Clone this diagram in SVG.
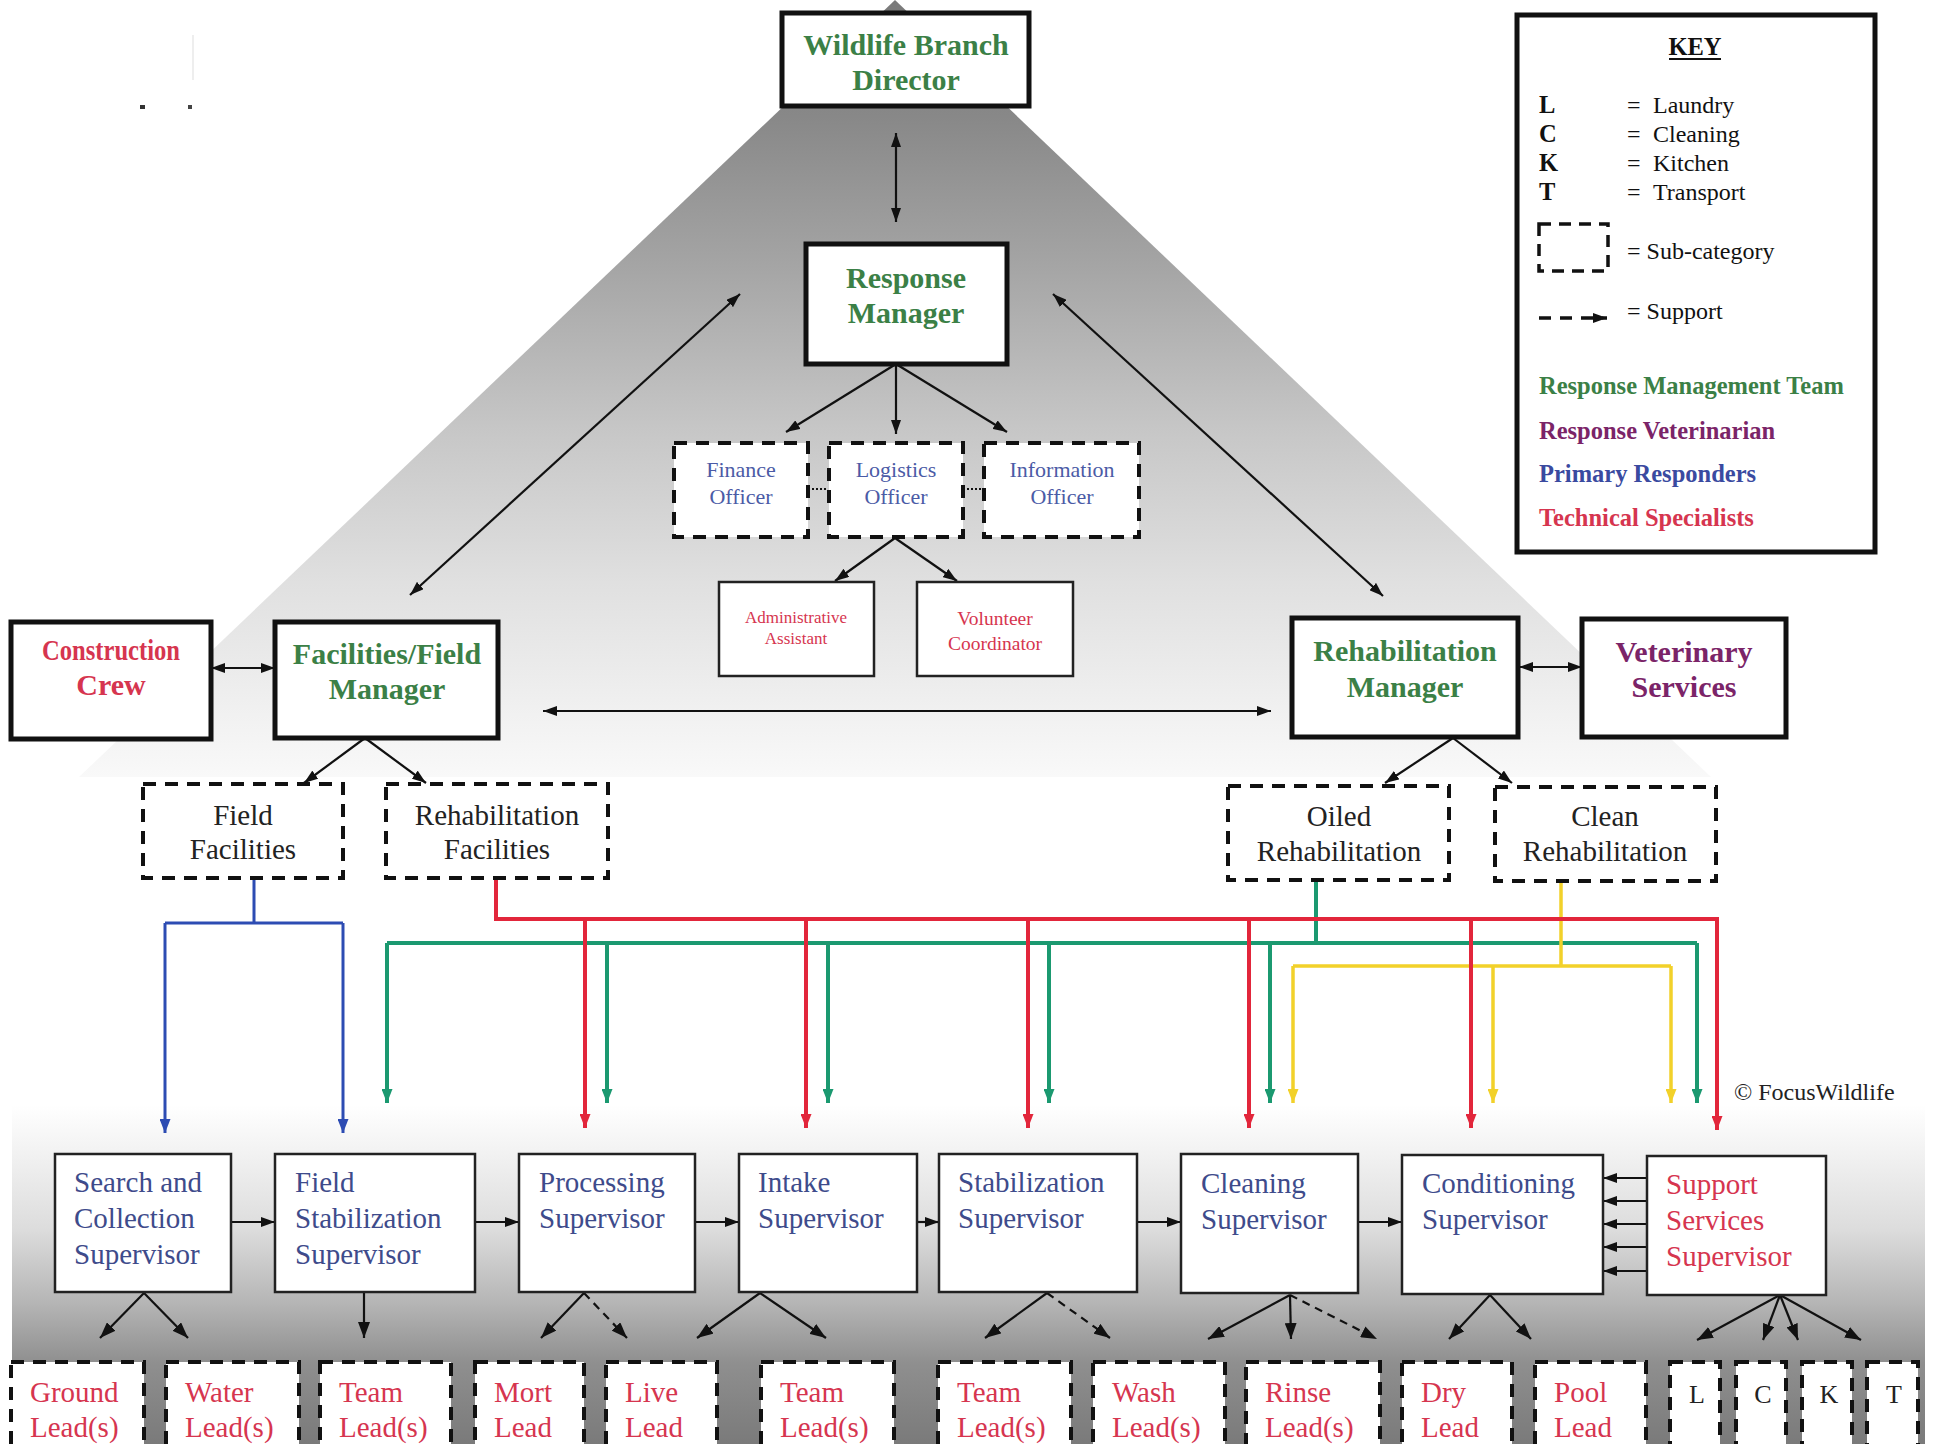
<svg xmlns="http://www.w3.org/2000/svg" width="1935" height="1444" viewBox="0 0 1935 1444">
<defs>
  <linearGradient id="tri" gradientUnits="userSpaceOnUse" x1="0" y1="0" x2="0" y2="777">
    <stop offset="0" stop-color="#7a7a7a"/>
    <stop offset="0.15" stop-color="#888888"/>
    <stop offset="0.35" stop-color="#a6a6a6"/>
    <stop offset="0.55" stop-color="#c6c6c6"/>
    <stop offset="0.75" stop-color="#e0e0e0"/>
    <stop offset="1" stop-color="#f9f9f9"/>
  </linearGradient>
  <linearGradient id="bot" gradientUnits="userSpaceOnUse" x1="0" y1="1105" x2="0" y2="1444">
    <stop offset="0" stop-color="#ffffff"/>
    <stop offset="0.14" stop-color="#f2f2f2"/>
    <stop offset="0.37" stop-color="#dcdcdc"/>
    <stop offset="0.58" stop-color="#b6b6b6"/>
    <stop offset="0.76" stop-color="#8f8f8f"/>
    <stop offset="1" stop-color="#7a7a7a"/>
  </linearGradient>
  <marker id="ah" viewBox="0 0 14 10" refX="14" refY="5" markerWidth="14" markerHeight="10" markerUnits="userSpaceOnUse" orient="auto-start-reverse">
    <path d="M0,0 L14,5 L0,10 z" fill="#111"/>
  </marker>
  <marker id="ahL" viewBox="0 0 16 12" refX="16" refY="6" markerWidth="16" markerHeight="12" markerUnits="userSpaceOnUse" orient="auto-start-reverse">
    <path d="M0,0 L16,6 L0,12 z" fill="#111"/>
  </marker>
  <marker id="ahr" viewBox="0 0 14 11" refX="14" refY="5.5" markerWidth="14" markerHeight="11" markerUnits="userSpaceOnUse" orient="auto">
    <path d="M0,0 L14,5.5 L0,11 z" fill="#e2263b"/>
  </marker>
  <marker id="ahg" viewBox="0 0 14 11" refX="14" refY="5.5" markerWidth="14" markerHeight="11" markerUnits="userSpaceOnUse" orient="auto">
    <path d="M0,0 L14,5.5 L0,11 z" fill="#1b9970"/>
  </marker>
  <marker id="ahy" viewBox="0 0 14 11" refX="14" refY="5.5" markerWidth="14" markerHeight="11" markerUnits="userSpaceOnUse" orient="auto">
    <path d="M0,0 L14,5.5 L0,11 z" fill="#f2d12a"/>
  </marker>
  <marker id="ahb" viewBox="0 0 14 11" refX="14" refY="5.5" markerWidth="14" markerHeight="11" markerUnits="userSpaceOnUse" orient="auto">
    <path d="M0,0 L14,5.5 L0,11 z" fill="#2d4cb3"/>
  </marker>
</defs>
<style>
  .thick{fill:#fff;stroke:#111;stroke-width:5}
  .thin{fill:#fff;stroke:#222;stroke-width:2.5}
  .dash{fill:#fff;stroke:#111;stroke-width:4;stroke-dasharray:13 9}
  .conn{fill:none;stroke:#111;stroke-width:2.2}
  .dconn{fill:none;stroke:#111;stroke-width:2.2;stroke-dasharray:8 6}
  .hd{font-family:"Liberation Serif",serif;font-weight:bold;font-size:30px;text-anchor:middle}
  .sub{font-family:"Liberation Serif",serif;font-size:29px;text-anchor:middle;fill:#222}
  .off{font-family:"Liberation Serif",serif;font-size:22px;text-anchor:middle;fill:#4b5ba6}
  .sv{font-family:"Liberation Serif",serif;font-size:29px;fill:#3e4b8b}
  .ld{font-family:"Liberation Serif",serif;font-size:29px;fill:#d6354f}
  .lt{font-family:"Liberation Serif",serif;font-size:26px;fill:#222;text-anchor:middle}
  .key{font-family:"Liberation Serif",serif;font-size:24px;fill:#111}
  .kb{font-family:"Liberation Serif",serif;font-size:24.5px;font-weight:bold}
  .g{fill:#3b8046}
  .pu{fill:#7b2468}
  .rd{fill:#d6354f}
  .bl{fill:#3a4aa0}
  .red{fill:none;stroke:#e2263b;stroke-width:4}
  .grn{fill:none;stroke:#1b9970;stroke-width:4}
  .yel{fill:none;stroke:#f2d12a;stroke-width:3.5}
  .blu{fill:none;stroke:#2d4cb3;stroke-width:3}
</style>

<g id="background">
  <rect x="0" y="0" width="1935" height="1444" fill="#ffffff"/>
  <polygon points="895,0 1711,777 79,777" fill="url(#tri)"/>
  <rect x="12" y="1105" width="1913" height="339" fill="url(#bot)"/>
  <rect x="140" y="105" width="5" height="4" fill="#333"/>
  <rect x="188" y="105" width="4" height="4" fill="#444"/>
  <line x1="193" y1="35" x2="193" y2="80" stroke="#ddd" stroke-width="1"/>
</g>

<g id="connectors">
  <line class="conn" x1="896" y1="133" x2="896" y2="222" marker-start="url(#ah)" marker-end="url(#ah)"/>
  <line class="conn" x1="896" y1="364" x2="786" y2="432" marker-end="url(#ah)"/>
  <line class="conn" x1="896" y1="364" x2="896" y2="434" marker-end="url(#ah)"/>
  <line class="conn" x1="896" y1="364" x2="1007" y2="432" marker-end="url(#ah)"/>
  <line class="conn" x1="808" y1="489" x2="828" y2="489" stroke-dasharray="2 2"/>
  <line class="conn" x1="963" y1="489" x2="984" y2="489" stroke-dasharray="2 2"/>
  <line class="conn" x1="895" y1="538" x2="835" y2="581" marker-end="url(#ah)"/>
  <line class="conn" x1="895" y1="538" x2="957" y2="581" marker-end="url(#ah)"/>
  <line class="conn" x1="740" y1="294" x2="410" y2="595" marker-start="url(#ah)" marker-end="url(#ah)"/>
  <line class="conn" x1="1053" y1="294" x2="1383" y2="596" marker-start="url(#ah)" marker-end="url(#ah)"/>
  <line class="conn" x1="211" y1="668" x2="275" y2="668" marker-start="url(#ah)" marker-end="url(#ah)"/>
  <line class="conn" x1="543" y1="711" x2="1271" y2="711" marker-start="url(#ah)" marker-end="url(#ah)"/>
  <line class="conn" x1="1519" y1="667" x2="1582" y2="667" marker-start="url(#ah)" marker-end="url(#ah)"/>
  <line class="conn" x1="365" y1="738" x2="304" y2="783" marker-end="url(#ah)"/>
  <line class="conn" x1="365" y1="738" x2="426" y2="783" marker-end="url(#ah)"/>
  <line class="conn" x1="1453" y1="738" x2="1385" y2="783" marker-end="url(#ah)"/>
  <line class="conn" x1="1453" y1="738" x2="1512" y2="783" marker-end="url(#ah)"/>

  <path class="blu" d="M254,879 V923 M165,923 H343"/>
  <line class="blu" x1="165" y1="923" x2="165" y2="1133" marker-end="url(#ahb)"/>
  <line class="blu" x1="343" y1="923" x2="343" y2="1133" marker-end="url(#ahb)"/>

  <path class="grn" d="M1316,880 V943 M387,943 H1697"/>
  <line class="grn" x1="387" y1="943" x2="387" y2="1103" marker-end="url(#ahg)"/>
  <line class="grn" x1="607" y1="943" x2="607" y2="1103" marker-end="url(#ahg)"/>
  <line class="grn" x1="828" y1="943" x2="828" y2="1103" marker-end="url(#ahg)"/>
  <line class="grn" x1="1049" y1="943" x2="1049" y2="1103" marker-end="url(#ahg)"/>
  <line class="grn" x1="1270" y1="943" x2="1270" y2="1103" marker-end="url(#ahg)"/>
  <line class="grn" x1="1697" y1="943" x2="1697" y2="1103" marker-end="url(#ahg)"/>

  <path class="yel" d="M1561,881 V966 M1293,966 H1671"/>
  <line class="yel" x1="1293" y1="966" x2="1293" y2="1103" marker-end="url(#ahy)"/>
  <line class="yel" x1="1493" y1="966" x2="1493" y2="1103" marker-end="url(#ahy)"/>
  <line class="yel" x1="1671" y1="966" x2="1671" y2="1103" marker-end="url(#ahy)"/>

  <path class="red" d="M496,879 V919 H1717"/>
  <line class="red" x1="585" y1="919" x2="585" y2="1128" marker-end="url(#ahr)"/>
  <line class="red" x1="806" y1="919" x2="806" y2="1128" marker-end="url(#ahr)"/>
  <line class="red" x1="1028" y1="919" x2="1028" y2="1128" marker-end="url(#ahr)"/>
  <line class="red" x1="1249" y1="919" x2="1249" y2="1128" marker-end="url(#ahr)"/>
  <line class="red" x1="1471" y1="919" x2="1471" y2="1128" marker-end="url(#ahr)"/>
  <line class="red" x1="1717" y1="917" x2="1717" y2="1130" marker-end="url(#ahr)"/>

  <line class="conn" x1="231" y1="1222" x2="275" y2="1222" marker-end="url(#ah)"/>
  <line class="conn" x1="475" y1="1222" x2="519" y2="1222" marker-end="url(#ah)"/>
  <line class="conn" x1="695" y1="1222" x2="739" y2="1222" marker-end="url(#ah)"/>
  <line class="conn" x1="917" y1="1222" x2="939" y2="1222" marker-end="url(#ah)"/>
  <line class="conn" x1="1137" y1="1222" x2="1181" y2="1222" marker-end="url(#ah)"/>
  <line class="conn" x1="1358" y1="1222" x2="1402" y2="1222" marker-end="url(#ah)"/>
  <line class="conn" x1="1647" y1="1178" x2="1603" y2="1178" marker-end="url(#ah)"/>
  <line class="conn" x1="1647" y1="1201" x2="1603" y2="1201" marker-end="url(#ah)"/>
  <line class="conn" x1="1647" y1="1224" x2="1603" y2="1224" marker-end="url(#ah)"/>
  <line class="conn" x1="1647" y1="1247" x2="1603" y2="1247" marker-end="url(#ah)"/>
  <line class="conn" x1="1647" y1="1271" x2="1603" y2="1271" marker-end="url(#ah)"/>

  <line class="conn" x1="144" y1="1293" x2="100" y2="1338" marker-end="url(#ahL)"/>
  <line class="conn" x1="144" y1="1293" x2="188" y2="1338" marker-end="url(#ahL)"/>
  <line class="conn" x1="364" y1="1293" x2="364" y2="1338" marker-end="url(#ahL)"/>
  <line class="conn" x1="584" y1="1293" x2="541" y2="1338" marker-end="url(#ahL)"/>
  <line class="dconn" x1="584" y1="1293" x2="627" y2="1338" marker-end="url(#ahL)"/>
  <line class="conn" x1="760" y1="1293" x2="697" y2="1338" marker-end="url(#ahL)"/>
  <line class="conn" x1="760" y1="1293" x2="826" y2="1338" marker-end="url(#ahL)"/>
  <line class="conn" x1="1047" y1="1293" x2="985" y2="1338" marker-end="url(#ahL)"/>
  <line class="dconn" x1="1047" y1="1293" x2="1110" y2="1338" marker-end="url(#ahL)"/>
  <line class="conn" x1="1290" y1="1295" x2="1208" y2="1339" marker-end="url(#ahL)"/>
  <line class="conn" x1="1290" y1="1295" x2="1291" y2="1339" marker-end="url(#ahL)"/>
  <line class="dconn" x1="1290" y1="1295" x2="1377" y2="1339" marker-end="url(#ahL)"/>
  <line class="conn" x1="1490" y1="1295" x2="1449" y2="1339" marker-end="url(#ahL)"/>
  <line class="conn" x1="1490" y1="1295" x2="1531" y2="1339" marker-end="url(#ahL)"/>
  <line class="conn" x1="1780" y1="1295" x2="1697" y2="1340" marker-end="url(#ahL)"/>
  <line class="conn" x1="1780" y1="1295" x2="1763" y2="1340" marker-end="url(#ahL)"/>
  <line class="conn" x1="1780" y1="1295" x2="1798" y2="1340" marker-end="url(#ahL)"/>
  <line class="conn" x1="1780" y1="1295" x2="1861" y2="1340" marker-end="url(#ahL)"/>
</g>

<g id="director">
  <rect class="thick" x="782" y="13" width="247" height="93"/>
  <text class="hd g" x="906"><tspan x="906" y="55">Wildlife Branch</tspan><tspan x="906" y="90">Director</tspan></text>
</g>
<g id="response-manager">
  <rect class="thick" x="806" y="244" width="201" height="120"/>
  <text class="hd g"><tspan x="906" y="288">Response</tspan><tspan x="906" y="323">Manager</tspan></text>
</g>
<g id="finance-officer">
  <rect class="dash" x="674" y="443" width="134" height="94"/>
  <text class="off"><tspan x="741" y="477">Finance</tspan><tspan x="741" y="504">Officer</tspan></text>
</g>
<g id="logistics-officer">
  <rect class="dash" x="829" y="443" width="134" height="94"/>
  <text class="off"><tspan x="896" y="477">Logistics</tspan><tspan x="896" y="504">Officer</tspan></text>
</g>
<g id="information-officer">
  <rect class="dash" x="984" y="443" width="155" height="94"/>
  <text class="off"><tspan x="1062" y="477">Information</tspan><tspan x="1062" y="504">Officer</tspan></text>
</g>
<g id="admin-assistant">
  <rect class="thin" x="719" y="582" width="155" height="94"/>
  <text font-family="Liberation Serif, serif" font-size="17" text-anchor="middle" class="rd"><tspan x="796" y="623">Administrative</tspan><tspan x="796" y="644">Assistant</tspan></text>
</g>
<g id="volunteer-coordinator">
  <rect class="thin" x="917" y="582" width="156" height="94"/>
  <text font-family="Liberation Serif, serif" font-size="19.5" text-anchor="middle" class="rd"><tspan x="995" y="625">Volunteer</tspan><tspan x="995" y="650">Coordinator</tspan></text>
</g>
<g id="construction-crew">
  <rect class="thick" x="11" y="622" width="200" height="117"/>
  <text class="hd rd" font-size="28"><tspan x="111" y="660" textLength="138" lengthAdjust="spacingAndGlyphs">Construction</tspan><tspan x="111" y="695">Crew</tspan></text>
</g>
<g id="facilities-manager">
  <rect class="thick" x="275" y="622" width="223" height="116"/>
  <text class="hd g" font-size="28"><tspan x="387" y="664">Facilities/Field</tspan><tspan x="387" y="699">Manager</tspan></text>
</g>
<g id="rehabilitation-manager">
  <rect class="thick" x="1292" y="618" width="226" height="119"/>
  <text class="hd g"><tspan x="1405" y="661">Rehabilitation</tspan><tspan x="1405" y="697">Manager</tspan></text>
</g>
<g id="veterinary-services">
  <rect class="thick" x="1582" y="619" width="204" height="118"/>
  <text class="hd pu"><tspan x="1684" y="662">Veterinary</tspan><tspan x="1684" y="697">Services</tspan></text>
</g>
<g id="field-facilities">
  <rect class="dash" x="143" y="784" width="200" height="94"/>
  <text class="sub"><tspan x="243" y="825">Field</tspan><tspan x="243" y="859">Facilities</tspan></text>
</g>
<g id="rehabilitation-facilities">
  <rect class="dash" x="386" y="784" width="222" height="94"/>
  <text class="sub"><tspan x="497" y="825">Rehabilitation</tspan><tspan x="497" y="859">Facilities</tspan></text>
</g>
<g id="oiled-rehabilitation">
  <rect class="dash" x="1228" y="786" width="221" height="94"/>
  <text class="sub"><tspan x="1339" y="826">Oiled</tspan><tspan x="1339" y="861">Rehabilitation</tspan></text>
</g>
<g id="clean-rehabilitation">
  <rect class="dash" x="1495" y="787" width="221" height="94"/>
  <text class="sub"><tspan x="1605" y="826">Clean</tspan><tspan x="1605" y="861">Rehabilitation</tspan></text>
</g>

<g id="search-collection-supervisor">
  <rect class="thin" x="55" y="1154" width="176" height="138"/>
  <text class="sv"><tspan x="74" y="1192">Search and</tspan><tspan x="74" y="1228">Collection</tspan><tspan x="74" y="1264">Supervisor</tspan></text>
</g>
<g id="field-stabilization-supervisor">
  <rect class="thin" x="275" y="1154" width="200" height="138"/>
  <text class="sv"><tspan x="295" y="1192">Field</tspan><tspan x="295" y="1228">Stabilization</tspan><tspan x="295" y="1264">Supervisor</tspan></text>
</g>
<g id="processing-supervisor">
  <rect class="thin" x="519" y="1154" width="176" height="138"/>
  <text class="sv"><tspan x="539" y="1192">Processing</tspan><tspan x="539" y="1228">Supervisor</tspan></text>
</g>
<g id="intake-supervisor">
  <rect class="thin" x="739" y="1154" width="178" height="138"/>
  <text class="sv"><tspan x="758" y="1192">Intake</tspan><tspan x="758" y="1228">Supervisor</tspan></text>
</g>
<g id="stabilization-supervisor">
  <rect class="thin" x="939" y="1154" width="198" height="138"/>
  <text class="sv"><tspan x="958" y="1192">Stabilization</tspan><tspan x="958" y="1228">Supervisor</tspan></text>
</g>
<g id="cleaning-supervisor">
  <rect class="thin" x="1181" y="1154" width="177" height="139"/>
  <text class="sv"><tspan x="1201" y="1193">Cleaning</tspan><tspan x="1201" y="1229">Supervisor</tspan></text>
</g>
<g id="conditioning-supervisor">
  <rect class="thin" x="1402" y="1155" width="201" height="139"/>
  <text class="sv"><tspan x="1422" y="1193">Conditioning</tspan><tspan x="1422" y="1229">Supervisor</tspan></text>
</g>
<g id="support-services-supervisor">
  <rect class="thin" x="1647" y="1156" width="179" height="139"/>
  <text class="sv rd"><tspan x="1666" y="1194">Support</tspan><tspan x="1666" y="1230">Services</tspan><tspan x="1666" y="1266">Supervisor</tspan></text>
</g>

<g id="ground-leads">
  <rect class="dash" x="11" y="1362" width="133" height="95"/>
  <text class="ld"><tspan x="30" y="1402">Ground</tspan><tspan x="30" y="1437">Lead(s)</tspan></text>
</g>
<g id="water-leads">
  <rect class="dash" x="166" y="1362" width="133" height="95"/>
  <text class="ld"><tspan x="185" y="1402">Water</tspan><tspan x="185" y="1437">Lead(s)</tspan></text>
</g>
<g id="team-leads-1">
  <rect class="dash" x="320" y="1362" width="131" height="95"/>
  <text class="ld"><tspan x="339" y="1402">Team</tspan><tspan x="339" y="1437">Lead(s)</tspan></text>
</g>
<g id="mort-lead">
  <rect class="dash" x="475" y="1362" width="109" height="95"/>
  <text class="ld"><tspan x="494" y="1402">Mort</tspan><tspan x="494" y="1437">Lead</tspan></text>
</g>
<g id="live-lead">
  <rect class="dash" x="606" y="1362" width="111" height="95"/>
  <text class="ld"><tspan x="625" y="1402">Live</tspan><tspan x="625" y="1437">Lead</tspan></text>
</g>
<g id="team-leads-2">
  <rect class="dash" x="761" y="1362" width="133" height="95"/>
  <text class="ld"><tspan x="780" y="1402">Team</tspan><tspan x="780" y="1437">Lead(s)</tspan></text>
</g>
<g id="team-leads-3">
  <rect class="dash" x="938" y="1362" width="133" height="95"/>
  <text class="ld"><tspan x="957" y="1402">Team</tspan><tspan x="957" y="1437">Lead(s)</tspan></text>
</g>
<g id="wash-leads">
  <rect class="dash" x="1093" y="1362" width="132" height="95"/>
  <text class="ld"><tspan x="1112" y="1402">Wash</tspan><tspan x="1112" y="1437">Lead(s)</tspan></text>
</g>
<g id="rinse-leads">
  <rect class="dash" x="1246" y="1362" width="134" height="95"/>
  <text class="ld"><tspan x="1265" y="1402">Rinse</tspan><tspan x="1265" y="1437">Lead(s)</tspan></text>
</g>
<g id="dry-lead">
  <rect class="dash" x="1402" y="1362" width="110" height="95"/>
  <text class="ld"><tspan x="1421" y="1402">Dry</tspan><tspan x="1421" y="1437">Lead</tspan></text>
</g>
<g id="pool-lead">
  <rect class="dash" x="1535" y="1362" width="111" height="95"/>
  <text class="ld"><tspan x="1554" y="1402">Pool</tspan><tspan x="1554" y="1437">Lead</tspan></text>
</g>
<g id="laundry">
  <rect class="dash" x="1670" y="1362" width="50" height="95"/>
  <text class="lt" x="1697" y="1403">L</text>
</g>
<g id="cleaning">
  <rect class="dash" x="1736" y="1362" width="50" height="95"/>
  <text class="lt" x="1763" y="1403">C</text>
</g>
<g id="kitchen">
  <rect class="dash" x="1802" y="1362" width="50" height="95"/>
  <text class="lt" x="1829" y="1403">K</text>
</g>
<g id="transport">
  <rect class="dash" x="1867" y="1362" width="51" height="95"/>
  <text class="lt" x="1894" y="1403">T</text>
</g>

<text id="copyright" x="1734" y="1100" font-family="Liberation Serif, serif" font-size="24" fill="#222">© FocusWildlife</text>

<g id="key">
  <rect class="thick" x="1517" y="15" width="358" height="537"/>
  <text class="kb" x="1695" y="55" text-anchor="middle" fill="#111">KEY</text>
  <line x1="1669" y1="59" x2="1721" y2="59" stroke="#111" stroke-width="2"/>
  <text class="kb" fill="#111" font-size="23"><tspan x="1539" y="113">L</tspan><tspan x="1539" y="142">C</tspan><tspan x="1539" y="171">K</tspan><tspan x="1539" y="200">T</tspan></text>
  <text class="key"><tspan x="1627" y="113">=</tspan><tspan x="1627" y="142">=</tspan><tspan x="1627" y="171">=</tspan><tspan x="1627" y="200">=</tspan></text>
  <text class="key"><tspan x="1653" y="113">Laundry</tspan><tspan x="1653" y="142">Cleaning</tspan><tspan x="1653" y="171">Kitchen</tspan><tspan x="1653" y="200">Transport</tspan></text>
  <rect x="1539" y="224" width="69" height="47" fill="none" stroke="#111" stroke-width="3.5" stroke-dasharray="12 8"/>
  <text class="key" x="1627" y="259">= Sub-category</text>
  <line x1="1539" y1="318" x2="1607" y2="318" stroke="#111" stroke-width="3.5" stroke-dasharray="12 9" marker-end="url(#ah)"/>
  <text class="key" x="1627" y="319">= Support</text>
  <text class="kb g" x="1539" y="394">Response Management Team</text>
  <text class="kb pu" x="1539" y="439">Response Veterinarian</text>
  <text class="kb bl" x="1539" y="482">Primary Responders</text>
  <text class="kb rd" x="1539" y="526">Technical Specialists</text>
</g>
</svg>
